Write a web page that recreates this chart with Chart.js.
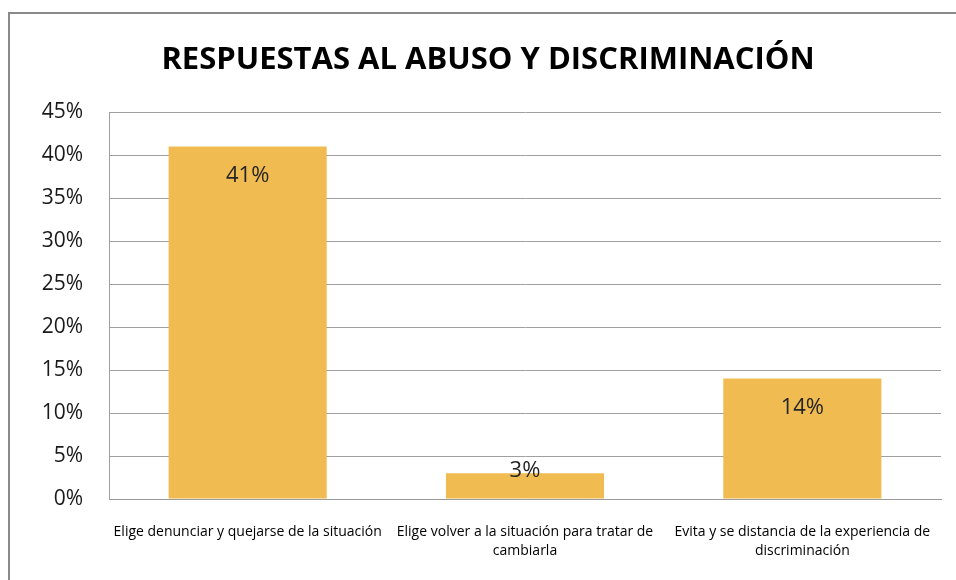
<!DOCTYPE html>
<html>
<head>
<meta charset="utf-8">
<script src="https://cdn.jsdelivr.net/npm/chart.js@4"></script>
<style>
  html, body { margin: 0; padding: 0; background: #fff; }
  #wrap { width: 956px; height: 580px; }
</style>
</head>
<body>
<div id="wrap"><canvas id="chart" width="956" height="580"></canvas></div>
<script>
// chart data
const categories = [
  ['Elige denunciar y quejarse de la situación'],
  ['Elige volver a la situación para tratar de', 'cambiarla'],
  ['Evita y se distancia de la experiencia de', 'discriminación']
];
const values = [41, 3, 14];
const valueLabels = ['41%', '3%', '14%'];
const yTicks = [0, 5, 10, 15, 20, 25, 30, 35, 40, 45];
const title = 'RESPUESTAS AL ABUSO Y DISCRIMINACIÓN';

// frame + title drawn around the chart
const frame = {
  id: 'frame',
  beforeDraw(chart) {
    const c = chart.ctx;
    c.save();
    c.fillStyle = '#fff';
    c.fillRect(0, 0, chart.width, chart.height);
    c.strokeStyle = '#8a8a8a';
    c.lineWidth = 2;
    c.strokeRect(9, 13, 1000, 700);
    c.fillStyle = '#000';
    c.font = 'bold 31px "Open Sans"';
    c.textAlign = 'center';
    c.textBaseline = 'alphabetic';
    c.fillText(title, 488, 69);
    c.restore();
  }
};

// value labels inside the bar tops
const barLabels = {
  id: 'barLabels',
  afterDatasetsDraw(chart) {
    const c = chart.ctx;
    const meta = chart.getDatasetMeta(0);
    c.save();
    c.font = '22px "Open Sans"';
    c.fillStyle = '#262626';
    c.textAlign = 'center';
    c.textBaseline = 'middle';
    meta.data.forEach((bar, i) => {
      const y = Math.min(bar.y + 29, bar.base - 28);
      c.fillText(valueLabels[i], bar.x, y);
    });
    c.restore();
  }
};

new Chart(document.getElementById('chart'), {
  type: 'bar',
  data: {
    labels: categories,
    datasets: [{
      data: values,
      backgroundColor: '#F0BB51',
      borderWidth: 0,
      barPercentage: 0.57,
      categoryPercentage: 1
    }]
  },
  options: {
    responsive: false,
    animation: false,
    layout: { padding: { top: 112, right: 15, left: 0, bottom: 0 } },
    plugins: {
      legend: { display: false },
      tooltip: { enabled: false }
    },
    scales: {
      x: {
        grid: { display: false, drawTicks: false },
        border: { display: true, color: '#9a9a9a', width: 1 },
        ticks: {
          color: '#000',
          font: { family: '"Open Sans"', size: 14, lineHeight: 1.36 },
          padding: 23,
          maxRotation: 0,
          autoSkip: false
        },
        afterFit(axis) { axis.height = 81; }
      },
      y: {
        min: 0,
        max: 45,
        afterBuildTicks(axis) { axis.ticks = yTicks.map(v => ({ value: v })); },
        grid: { color: '#a0a0a0', lineWidth: 1, drawTicks: false },
        border: { display: true, color: '#a0a0a0', width: 1 },
        ticks: {
          color: '#1a1a1a',
          font: { family: '"Open Sans"', size: 21 },
          padding: 26,
          callback: v => v + '%'
        },
        afterFit(axis) { axis.width = 109; }
      }
    }
  },
  plugins: [frame, barLabels]
});
</script>
</body>
</html>
